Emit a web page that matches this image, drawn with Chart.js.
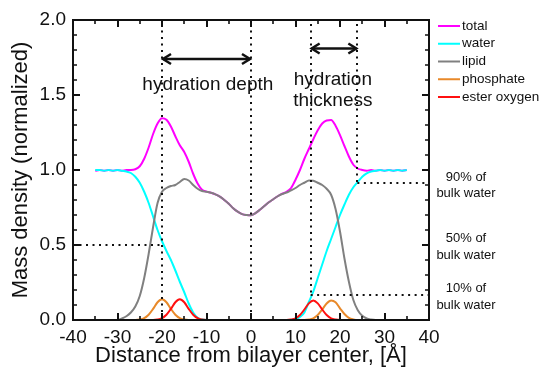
<!DOCTYPE html>
<html><head><meta charset="utf-8">
<script src="https://cdn.jsdelivr.net/npm/chart.js@4"></script>
<style>html,body{margin:0;padding:0;background:#fff;}#wrap{width:542px;height:374px;}</style>
</head><body><div id="wrap"><canvas id="c" width="542" height="374"></canvas></div>
<script>
// ---- data ----
const distance = [-35,-34,-33,-32,-31,-30,-29,-28,-27,-26,-25,-24,-23,-22,-21,-20,-19,-18,-17,-16,-15,-14,-13,-12,-11,-10,-9,-8,-7,-6,-5,-4,-3,-2,-1,0,1,2,3,4,5,6,7,8,9,10,11,12,13,14,15,16,17,18,19,20,21,22,23,24,25,26,27,28,29,30,31,32,33,34,35];

const total = [0.995,1.0,0.995,1.0,0.995,1.0,0.995,1.0,
  1.0,1.005,1.025,1.075,1.15,1.24,1.31,1.345,1.335,1.29,1.225,1.165,1.12,1.055,0.975,0.91,0.868,0.856,0.848,0.838,0.822,0.80,0.775,0.745,0.722,0.706,0.70,0.698,0.712,0.735,0.76,0.785,0.805,0.825,0.842,0.855,0.88,0.935,1.0,1.075,1.14,1.205,1.265,1.31,1.33,1.333,1.295,1.233,1.16,1.09,1.035,1.01,1.0,
  0.995,1.0,0.995,1.0,0.995,1.0,0.995,1.0,0.995,1.0];

const water = [1.0,1.0,0.995,1.0,0.995,1.0,0.995,0.99,0.98,0.955,0.915,0.855,0.78,0.69,0.60,0.525,0.46,0.40,0.33,0.255,0.185,0.11,0.05,0.015,0.003,
  0,0,0,0,0,0,0,0,0,0,0,0,0,0,0,0,0,0,0,0,
  0.005,0.02,0.05,0.12,0.19,0.28,0.37,0.46,0.54,0.62,0.70,0.77,0.835,0.885,0.92,0.955,0.978,0.99,0.995,1.0,0.995,1.0,0.995,1.0,0.995,1.0];

const lipid = [0,0,0,0,0,0,
  0.01,0.025,0.05,0.09,0.16,0.28,0.44,0.62,0.78,0.855,0.88,0.893,0.90,0.92,0.94,0.93,0.90,0.875,0.86,0.855,0.848,0.838,0.822,0.80,0.775,0.745,0.722,0.706,0.70,0.698,0.712,0.735,0.76,0.785,0.805,0.825,0.84,0.85,0.865,0.88,0.90,0.915,0.93,0.928,0.915,0.90,0.875,0.835,0.74,0.59,0.41,0.255,0.133,0.065,0.028,0.01,0.003,
  0,0,0,0,0,0,0,0];

const phosphate = [0,0,0,0,0,0,0,0,0,0,
  0.003,0.012,0.035,0.074,0.118,0.138,0.118,0.074,0.035,0.012,0.003,
  0,0,0,0,0,0,0,0,0,0,0,0,0,0,0,0,0,0,0,0,0,0,0,0,0,0,0,
  0.003,0.011,0.033,0.07,0.11,0.13,0.118,0.078,0.04,0.014,0.004,
  0,0,0,0,0,0,0,0,0,0,0,0];

const esterOxygen = [0,0,0,0,0,0,0,0,0,0,0,0,0,0,
  0.003,0.012,0.035,0.074,0.118,0.138,0.118,0.074,0.035,0.012,0.003,
  0,0,0,0,0,0,0,0,0,0,0,0,0,0,0,0,0,0,0,
  0.003,0.011,0.033,0.07,0.111,0.13,0.111,0.07,0.033,0.011,0.003,
  0,0,0,0,0,0,0,0,0,0,0,0,0,0,0,0];

const seriesNames = ['total','water','lipid','phosphate','ester oxygen'];
const seriesValues = [total, water, lipid, phosphate, esterOxygen];

// annotation guides (data coordinates)
const guideX = [-20, 0, 13.4, 23.9];
const guideBottom = [0, 0, 0.17, 0.915];
const levelY = [0.5, 0.915, 0.17];
const levelFrom = [-40, 23.9, 13.4];
const levelTo = [-20, 40, 40];
const arrowY = [1.74, 1.81];
const arrowFrom = [-20, 13.4];
const arrowTo = [0, 23.9];
const labelText = ['hydration depth', 'hydration', 'thickness'];
const labelX = [-9.7, 18.4, 18.4];
const labelY = [1.567, 1.6, 1.46];
const noteText = ['90% of', 'bulk water', '50% of', 'bulk water', '10% of', 'bulk water'];
const noteY = [0.953, 0.847, 0.547, 0.433, 0.213, 0.1];

// ---- styles ----
const FONT = '"Liberation Sans", Arial, Helvetica, sans-serif';
const seriesColors = ['#ff00ff', '#00ffff', '#808080', '#e8892a', '#ff1010'];
const seriesOrder = [4, 3, 2, 1, 0];
const INK = '#111111';

const deco = {
  id: 'deco',
  afterDatasetsDraw(chart) {
    const {ctx, chartArea: a, scales: {x, y}} = chart;
    ctx.save();
    ctx.strokeStyle = INK;
    ctx.fillStyle = INK;
    // dotted guides
    ctx.lineWidth = 2;
    ctx.setLineDash([2, 4.5]);
    guideX.forEach((gx, i) => {
      const px = Math.round(x.getPixelForValue(gx));
      ctx.beginPath();
      ctx.moveTo(px, a.top + 4);
      ctx.lineTo(px, y.getPixelForValue(guideBottom[i]));
      ctx.stroke();
    });
    levelY.forEach((ly, i) => {
      const py = Math.round(y.getPixelForValue(ly));
      ctx.beginPath();
      ctx.moveTo(x.getPixelForValue(levelFrom[i]), py);
      ctx.lineTo(x.getPixelForValue(levelTo[i]), py);
      ctx.stroke();
    });
    ctx.setLineDash([]);
    // arrows
    ctx.lineWidth = 2.5;
    ctx.lineJoin = 'miter';
    arrowY.forEach((ay, i) => {
      const py = y.getPixelForValue(ay);
      const x1 = x.getPixelForValue(arrowFrom[i]) + 1;
      const x2 = x.getPixelForValue(arrowTo[i]) - 1;
      ctx.beginPath(); ctx.moveTo(x1, py); ctx.lineTo(x2, py); ctx.stroke();
      ctx.beginPath(); ctx.moveTo(x1 + 8, py - 5); ctx.lineTo(x1, py); ctx.lineTo(x1 + 8, py + 5); ctx.stroke();
      ctx.beginPath(); ctx.moveTo(x2 - 8, py - 5); ctx.lineTo(x2, py); ctx.lineTo(x2 - 8, py + 5); ctx.stroke();
    });
    // frame
    ctx.lineWidth = 2;
    ctx.strokeRect(a.left, a.top, a.right - a.left, a.bottom - a.top);
    // inward ticks on all four sides
    for (let v = -40; v <= 40; v += 5) {
      const px = Math.round(x.getPixelForValue(v));
      const len = (v % 10 === 0) ? 7 : 4;
      ctx.lineWidth = (v % 10 === 0) ? 2 : 1.6;
      ctx.beginPath();
      ctx.moveTo(px, a.bottom); ctx.lineTo(px, a.bottom - len);
      ctx.moveTo(px, a.top); ctx.lineTo(px, a.top + len);
      ctx.stroke();
    }
    for (let k = 0; k <= 20; k++) {
      const py = Math.round(y.getPixelForValue(k / 10));
      const len = (k % 5 === 0) ? 7 : 4;
      ctx.lineWidth = (k % 5 === 0) ? 2 : 1.6;
      ctx.beginPath();
      ctx.moveTo(a.left, py); ctx.lineTo(a.left + len, py);
      ctx.moveTo(a.right, py); ctx.lineTo(a.right - len, py);
      ctx.stroke();
    }
    // in-plot labels
    ctx.font = '19px ' + FONT;
    ctx.textAlign = 'center';
    ctx.textBaseline = 'middle';
    labelText.forEach((t, i) => ctx.fillText(t, x.getPixelForValue(labelX[i]), y.getPixelForValue(labelY[i])));
    // right-hand notes
    ctx.font = '13px ' + FONT;
    noteText.forEach((t, i) => ctx.fillText(t, a.right + 37, y.getPixelForValue(noteY[i])));
    // legend
    ctx.font = '13.5px ' + FONT;
    ctx.textAlign = 'left';
    chart.data.datasets.forEach((ds, i) => {
      const py = a.top + 6 + i * 17.75;
      ctx.strokeStyle = ds.borderColor;
      ctx.lineWidth = 2;
      ctx.beginPath(); ctx.moveTo(a.right + 9, py); ctx.lineTo(a.right + 31, py); ctx.stroke();
      ctx.fillStyle = INK;
      ctx.fillText(ds.label, a.right + 33, py);
    });
    ctx.restore();
  }
};

new Chart(document.getElementById('c'), {
  type: 'scatter',
  data: {
    datasets: seriesValues.map((vals, i) => ({
      label: seriesNames[i],
      data: distance.map((d, j) => ({x: d, y: vals[j]})),
      showLine: true,
      borderColor: seriesColors[i],
      backgroundColor: seriesColors[i],
      borderWidth: 2,
      pointRadius: 0,
      cubicInterpolationMode: 'monotone',
      fill: false,
      order: seriesOrder[i]
    }))
  },
  options: {
    responsive: false,
    animation: false,
    devicePixelRatio: 1,
    layout: {padding: {top: 20, right: 113, left: 0, bottom: 0}},
    plugins: {legend: {display: false}, tooltip: {enabled: false}},
    scales: {
      x: {
        type: 'linear', min: -40, max: 40,
        ticks: {stepSize: 10, font: {size: 19, family: FONT}, color: INK, padding: 6, maxRotation: 0},
        grid: {display: false, drawTicks: false},
        border: {display: false},
        title: {display: true, text: 'Distance from bilayer center, [Å]', font: {size: 22, family: FONT}, color: INK, padding: {top: 0, bottom: 5}},
        afterFit(s) { s.height = 54; }
      },
      y: {
        min: 0, max: 2,
        ticks: {stepSize: 0.5, callback: v => Number(v).toFixed(1), font: {size: 19, family: FONT}, color: INK, padding: 7},
        grid: {display: false, drawTicks: false},
        border: {display: false},
        title: {display: true, text: 'Mass density (normalized)', font: {size: 22, family: FONT}, color: INK, padding: {top: 8, bottom: 0}},
        afterFit(s) { s.width = 73; }
      }
    }
  },
  plugins: [deco]
});
</script>
</body></html>
